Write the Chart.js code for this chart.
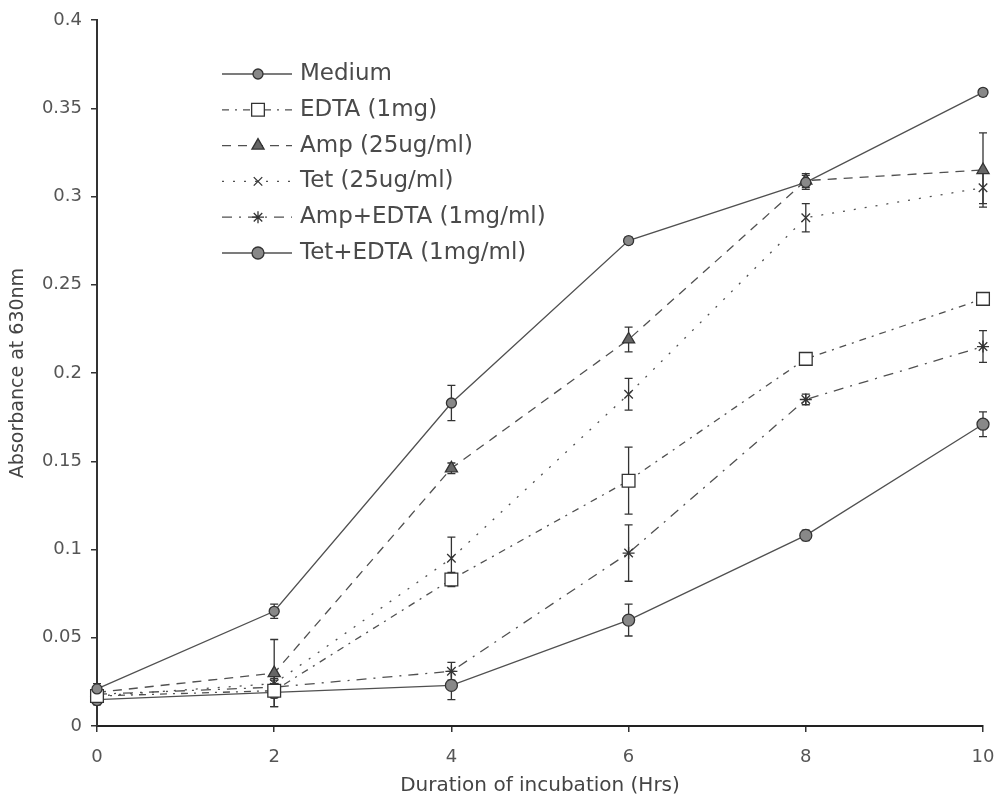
<!DOCTYPE html>
<html>
<head>
<meta charset="utf-8">
<title>Absorbance at 630nm</title>
<script src="https://cdn.jsdelivr.net/npm/chart.js@4.4.1/dist/chart.umd.min.js"></script>
<style>
  html, body { margin: 0; padding: 0; background: #fff; }
  #chart-container { width: 997px; height: 799px; }
</style>
</head>
<body>
<div id="chart-container"><canvas id="my-chart" width="997" height="799"></canvas></div>
<script>
'use strict';

//***********Data***********
let hours = [0, 2, 4, 6, 8, 10];
let xTickValues = [0, 2, 4, 6, 8, 10];
let yTickValues = [0, 0.05, 0.1, 0.15, 0.2, 0.25, 0.3, 0.35, 0.4];

let seriesNames = ['Medium', 'EDTA (1mg)', 'Amp (25ug/ml)', 'Tet (25ug/ml)', 'Amp+EDTA (1mg/ml)', 'Tet+EDTA (1mg/ml)'];

let medium = [0.021, 0.065, 0.183, 0.275, 0.308, 0.359];
let edta = [0.017, 0.020, 0.083, 0.139, 0.208, 0.242];
let amp = [0.019, 0.030, 0.146, 0.219, 0.309, 0.315];
let tet = [0.017, 0.024, 0.095, 0.188, 0.288, 0.305];
let ampEdta = [0.018, 0.022, 0.031, 0.098, 0.185, 0.215];
let tetEdta = [0.015, 0.019, 0.023, 0.060, 0.108, 0.171];

// error bars (+/-)
let mediumErr = [0.003, 0.004, 0.010, 0.002, 0.004, 0.002];
let edtaErr = [0.003, 0.004, 0.004, 0.019, 0.003, 0.003];
let ampErr = [0.003, 0.019, 0.003, 0.007, 0.004, 0.021];
let tetErr = [0.003, 0.005, 0.012, 0.009, 0.008, 0.009];
let ampEdtaErr = [0.003, 0.004, 0.005, 0.016, 0.003, 0.009];
let tetEdtaErr = [0.003, 0.008, 0.008, 0.009, 0.003, 0.007];

//***********Helpers***********
function toPoints(values) {
  let pts = [];
  for (let i = 0; i < hours.length; i++) {
    pts.push({ x: hours[i], y: values[i] });
  }
  return pts;
}

let fontName = '"DejaVu Sans", "Liberation Sans", sans-serif';
let legendLeft = 222;
let legendRight = 292;
let legendMarkX = 258;
let legendTextX = 300;
let legendTop = 74;
let legendGap = 35.8;

// error bars, drawn under the markers
let errorBarPlugin = {
  id: 'errorBars',
  beforeDatasetsDraw(chart) {
    let ctx = chart.ctx;
    let yScale = chart.scales.y;
    ctx.save();
    ctx.strokeStyle = '#333';
    ctx.lineWidth = 1.3;
    chart.data.datasets.forEach((ds, i) => {
      let meta = chart.getDatasetMeta(i);
      meta.data.forEach((pt, j) => {
        let e = ds.errors[j];
        if (!e) return;
        let v = ds.data[j].y;
        let top = yScale.getPixelForValue(v + e);
        let bottom = yScale.getPixelForValue(v - e);
        ctx.beginPath();
        ctx.moveTo(pt.x, top);
        ctx.lineTo(pt.x, bottom);
        ctx.moveTo(pt.x - 4, top);
        ctx.lineTo(pt.x + 4, top);
        ctx.moveTo(pt.x - 4, bottom);
        ctx.lineTo(pt.x + 4, bottom);
        ctx.stroke();
      });
    });
    ctx.restore();
  }
};

// legend inside the plot, line sample + marker + text
let innerLegendPlugin = {
  id: 'innerLegend',
  afterDraw(chart) {
    let ctx = chart.ctx;
    chart.data.datasets.forEach((ds, i) => {
      let y = legendTop + i * legendGap;
      ctx.save();
      ctx.strokeStyle = ds.borderColor;
      ctx.lineWidth = ds.borderWidth;
      ctx.setLineDash(ds.borderDash);
      ctx.beginPath();
      ctx.moveTo(legendLeft, y);
      ctx.lineTo(legendRight, y);
      ctx.stroke();
      ctx.setLineDash([]);
      ctx.fillStyle = ds.pointBackgroundColor;
      ctx.strokeStyle = ds.pointBorderColor;
      ctx.lineWidth = ds.pointBorderWidth;
      Chart.helpers.drawPoint(ctx, {
        pointStyle: ds.pointStyle,
        radius: ds.pointRadius,
        rotation: 0,
        borderWidth: ds.pointBorderWidth
      }, legendMarkX, y);
      ctx.fillStyle = '#4a4a4a';
      ctx.font = '23px ' + fontName;
      ctx.textBaseline = 'middle';
      ctx.textAlign = 'left';
      ctx.fillText(ds.label, legendTextX, y);
      ctx.restore();
    });
  }
};

function makeSet(i, values, errors, dash, style, radius, fill) {
  return {
    label: seriesNames[i],
    data: toPoints(values),
    errors: errors,
    borderColor: '#505050',
    borderWidth: 1.3,
    borderDash: dash,
    tension: 0,
    fill: false,
    clip: false,
    pointStyle: style,
    pointRadius: radius,
    pointBackgroundColor: fill,
    pointBorderColor: '#333',
    pointBorderWidth: 1.3
  };
}

//***********Chart***********
let ctx = document.getElementById('my-chart').getContext('2d');

let myChartObj = {
  type: 'line',
  data: {
    datasets: [
      makeSet(0, medium, mediumErr, [], 'circle', 5, '#888'),
      makeSet(1, edta, edtaErr, [7, 6, 2, 6], 'rect', 9, '#fff'),
      makeSet(2, amp, ampErr, [9, 7], 'triangle', 7, '#666'),
      makeSet(3, tet, tetErr, [2, 9], 'crossRot', 6, '#fff'),
      makeSet(4, ampEdta, ampEdtaErr, [10, 7, 2, 7], 'star', 6, '#fff'),
      makeSet(5, tetEdta, tetEdtaErr, [], 'circle', 6, '#888')
    ]
  },
  options: {
    responsive: false,
    animation: false,
    devicePixelRatio: 1,
    layout: { padding: { left: 0, right: 14, top: 20, bottom: 0 } },
    plugins: {
      legend: { display: false },
      tooltip: { enabled: false }
    },
    scales: {
      x: {
        type: 'linear',
        min: 0,
        max: 10,
        afterBuildTicks: (scale) => { scale.ticks = xTickValues.map(v => ({ value: v })); },
        afterFit: (scale) => {
          scale.height = 73;
          scale.paddingLeft = 0;
          scale.paddingRight = 0;
        },
        grid: { display: true, drawOnChartArea: false, drawTicks: true, tickLength: 6, color: '#333', lineWidth: 1.5 },
        border: { display: true, color: '#222', width: 2 },
        ticks: { color: '#555', font: { family: fontName, size: 18 }, padding: 15, maxRotation: 0 },
        title: {
          display: true,
          text: 'Duration of incubation (Hrs)',
          color: '#444',
          font: { family: fontName, size: 20 },
          padding: { top: 0, bottom: 1 }
        }
      },
      y: {
        min: 0,
        max: 0.4,
        afterBuildTicks: (scale) => { scale.ticks = yTickValues.map(v => ({ value: v })); },
        afterFit: (scale) => { scale.width = 97; },
        grid: { display: true, drawOnChartArea: false, drawTicks: true, tickLength: 6, color: '#333', lineWidth: 1.5 },
        border: { display: true, color: '#333', width: 2 },
        ticks: { color: '#555', font: { family: fontName, size: 18 }, padding: 9, callback: (v) => String(v) },
        title: {
          display: true,
          text: 'Absorbance at 630nm',
          color: '#444',
          font: { family: fontName, size: 19 },
          padding: { top: 7, bottom: 0 }
        }
      }
    }
  },
  plugins: [errorBarPlugin, innerLegendPlugin]
};

new Chart(ctx, myChartObj);
</script>
</body>
</html>
